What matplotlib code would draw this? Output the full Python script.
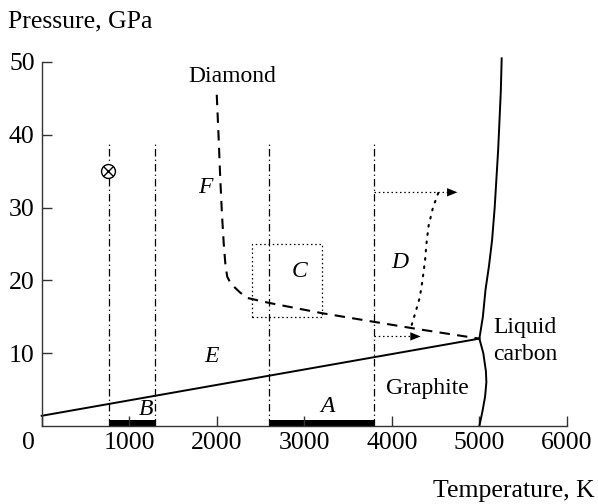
import matplotlib
matplotlib.use("Agg")
import matplotlib.pyplot as plt
import matplotlib.transforms as mtransforms

plt.rcParams['font.family'] = ['Liberation Serif', 'DejaVu Serif']
plt.rcParams['mathtext.fontset'] = 'stix'

# ---- data ----
xticks = [0, 1000, 2000, 3000, 4000, 5000, 6000]
yticks = [10, 20, 30, 40, 50]

# graphite/diamond boundary
gd_T = [0, 5000]
gd_P = [1.4, 12]
# graphite/liquid boundary
gl_T = [5000, 5045, 5075, 5080, 5065, 5035, 5000]
gl_P = [12, 10, 7.5, 6, 4, 2, 0]
# diamond/liquid boundary
dl_T = [5000, 5040, 5070, 5110, 5145, 5175, 5195, 5215, 5230, 5245, 5255]
dl_P = [12, 15, 18.7, 22, 25.5, 30, 34, 38, 42, 46, 50.5]
# dashed curve F
f_T = [2000, 2020, 2040, 2060, 2080, 2100, 2120, 2150, 2200, 2260, 2345, 2600, 3200, 3800, 4300, 5000]
f_P = [45.5, 40, 34, 29, 25, 22, 20.5, 19.8, 19.1, 18.4, 17.6, 16.9, 15.5, 14.3, 13.3, 12]
# dotted curve D
d_T = [4530, 4470, 4420, 4395, 4380, 4350, 4320, 4280, 4245, 4215]
d_P = [32, 30, 27.5, 25, 22.8, 20, 17.7, 16, 14.6, 13.4]
# dotted box C
box_T = [2400, 3200]
box_P = [15, 25]
# dash-dot verticals
vlines_T = [770, 1290, 2600, 3800]
vline_top = 39
# black bars on axis (B, A)
bars = [(770, 1290), (2600, 3800)]
bar_h = 0.8
# arrows (dotted)
arrow_up = ((3800, 32.1), (4750, 32.1))
arrow_lo = ((3800, 12.3), (4330, 12.3))
# marker
mark_T, mark_P = 760, 35

fig = plt.figure(figsize=(5.98, 5.04), dpi=100)
ax = fig.add_axes([0.0697, 0.1548, 0.8783, 0.7222])
ax.set_xlim(0, 6000)
ax.set_ylim(0, 50)

for s in ['top', 'right']:
    ax.spines[s].set_visible(False)
for s in ['left', 'bottom']:
    ax.spines[s].set_linewidth(1.0)
    ax.spines[s].set_color('#333333')

ax.set_xticks(xticks)
ax.set_yticks(yticks)
ax.tick_params(direction='in', length=7, width=1.0, colors='#333333',
               labelcolor='black', labelsize=18.5)
ax.tick_params(axis='x', pad=4)
ax.tick_params(axis='y', pad=5)
# shift the "0" label left
lbl0 = ax.get_xticklabels()[0]
lbl0.set_transform(lbl0.get_transform() +
                   mtransforms.ScaledTranslation(-13/100, 0, fig.dpi_scale_trans))

lw = 1.4
ax.plot(gd_T, gd_P, color='black', lw=lw, clip_on=False)
ax.plot(gl_T, gl_P, color='black', lw=lw, clip_on=False)
ax.plot(dl_T, dl_P, color='black', lw=lw, clip_on=False)
ax.plot(f_T, f_P, color='black', lw=1.5, linestyle=(0, (5, 3.5)), clip_on=False)
ax.plot(d_T, d_P, color='black', lw=1.5, linestyle=(0, (0.8, 3.2)),
        dash_capstyle='round', clip_on=False)

# box C
bx = [box_T[0], box_T[1], box_T[1], box_T[0], box_T[0]]
by = [box_P[0], box_P[0], box_P[1], box_P[1], box_P[0]]
ax.plot(bx, by, color='black', lw=0.9, linestyle=(0, (1.2, 2.2)))

# verticals
for t in vlines_T:
    ax.plot([t, t], [0, vline_top], color='black', lw=0.9,
            linestyle=(0, (6, 2.5, 1, 2.5)))

# bars
for a, b in bars:
    ax.bar(a, bar_h, width=b - a, bottom=0, align='edge', color='black',
           edgecolor='black', linewidth=0, zorder=1)

# dotted arrows
for (x0, y0), (x1, y1) in [arrow_up, arrow_lo]:
    ax.plot([x0, x1 - 60], [y0, y1], color='black', lw=0.9,
            linestyle=(0, (1.2, 2.2)))
    ax.annotate('', xy=(x1, y1), xytext=(x1 - 200, y1),
                arrowprops=dict(arrowstyle='-|>,head_length=0.75,head_width=0.3',
                                color='black', lw=0, shrinkA=0, shrinkB=0))

# marker
ax.plot([mark_T], [mark_P], marker='o', ms=10, mfc='white', mec='black', mew=1.0,
        zorder=5)
ax.plot([mark_T], [mark_P], marker='x', ms=7, color='black', mew=1.0, zorder=6)

# labels
fs = 17
ax.text(2175, 48, 'Diamond', fontsize=fs, ha='center', va='center')
ax.text(1870, 32.7, 'F', fontsize=fs, style='italic', ha='center', va='center')
ax.text(2950, 21.2, 'C', fontsize=fs, style='italic', ha='center', va='center')
ax.text(4095, 22.4, 'D', fontsize=fs, style='italic', ha='center', va='center')
ax.text(1937, 9.5, 'E', fontsize=fs, style='italic', ha='center', va='center')
ax.text(1190, 2.3, 'B', fontsize=fs, style='italic', ha='center', va='center')
ax.text(3270, 2.7, 'A', fontsize=fs, style='italic', ha='center', va='center')
ax.text(4404, 5.2, 'Graphite', fontsize=fs, ha='center', va='center')
ax.text(5160, 13.5, 'Liquid', fontsize=fs, ha='left', va='center')
ax.text(5160, 9.8, 'carbon', fontsize=fs, ha='left', va='center')

fig.text(8/598, 1 - 27/504, 'Pressure, GPa', fontsize=18.5, ha='left', va='baseline')
fig.text(595/598, 7/504, 'Temperature, K', fontsize=18.5, ha='right', va='baseline')

fig.savefig('out.png', dpi=100)
